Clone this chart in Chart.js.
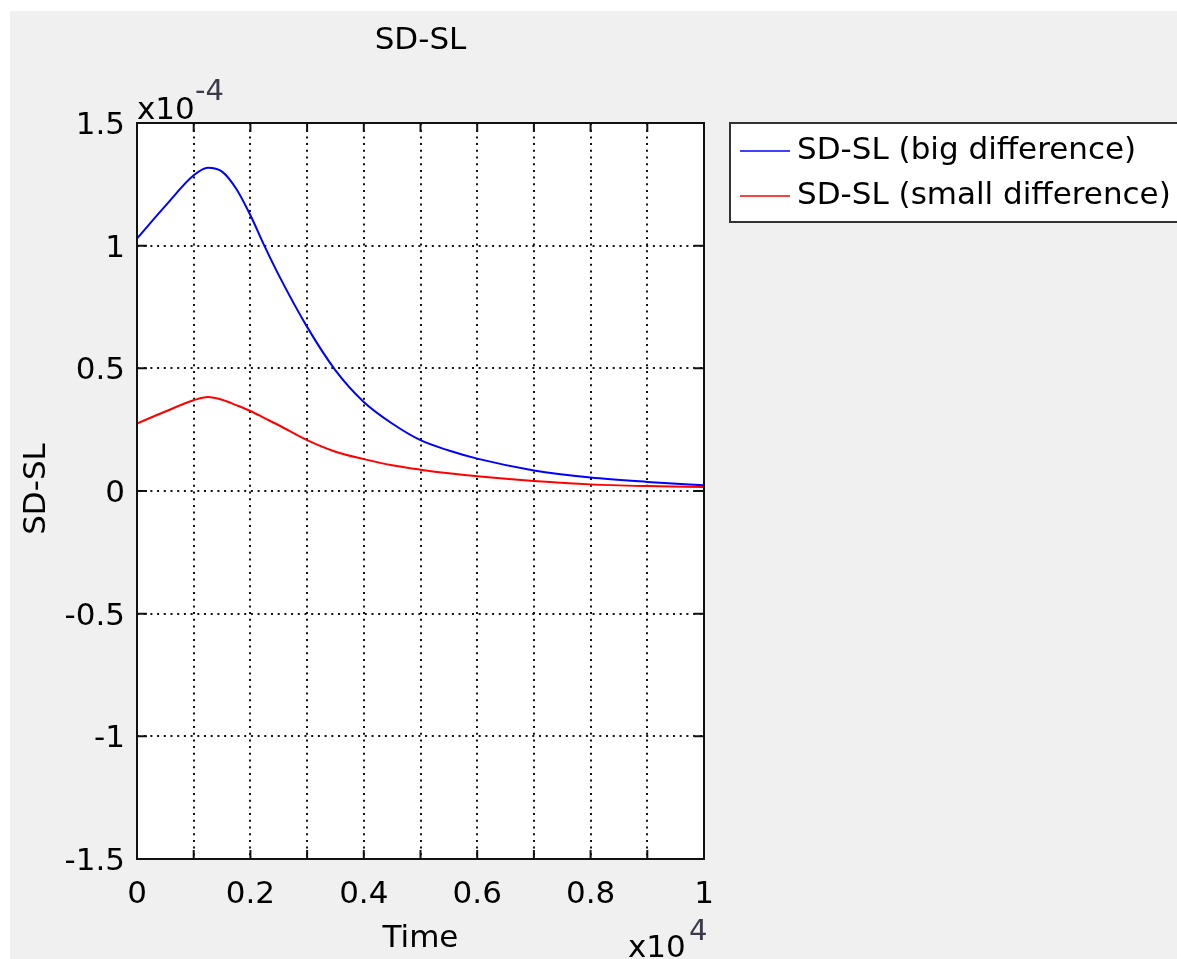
<!DOCTYPE html>
<html>
<head>
<meta charset="utf-8">
<script src="https://cdn.jsdelivr.net/npm/chart.js@4.4.1/dist/chart.umd.min.js"></script>
<style>
  html, body { margin: 0; padding: 0; background: #ffffff; }
  #wrap { width: 1177px; height: 959px; position: relative; }
</style>
</head>
<body>
<div id="wrap"><canvas id="grafico" width="1177" height="959"></canvas></div>
<script>
// datos (tiempo en x10^4, SD-SL en x10^-4)
var tiempo = [0, 0.05, 0.1, 0.125, 0.15, 0.175, 0.2, 0.225, 0.25, 0.3, 0.35, 0.4, 0.45, 0.5, 0.55, 0.6, 0.7, 0.8, 0.9, 1.0];
var bigDiff = [1.029, 1.162, 1.287, 1.318, 1.302, 1.232, 1.124, 0.998, 0.88, 0.669, 0.492, 0.363, 0.275, 0.207, 0.165, 0.132, 0.084, 0.055, 0.037, 0.023];
var smallDiff = [0.275, 0.324, 0.37, 0.383, 0.372, 0.35, 0.326, 0.297, 0.268, 0.207, 0.16, 0.13, 0.105, 0.087, 0.072, 0.06, 0.041, 0.027, 0.02, 0.016];
var nombres = ["SD-SL (big difference)", "SD-SL (small difference)"];
var colores = ["#0000ff", "#ff0000"];
var xTicks = [0, 0.1, 0.2, 0.3, 0.4, 0.5, 0.6, 0.7, 0.8, 0.9, 1];
var xLabels = ["0", "", "0.2", "", "0.4", "", "0.6", "", "0.8", "", "1"];
var yTicks = [-1.5, -1, -0.5, 0, 0.5, 1, 1.5];
var yLabels = ["-1.5", "-1", "-0.5", "0", "0.5", "1", "1.5"];

var fuente = "'DejaVu Sans', sans-serif";
var tam = 31;

function puntos(serie){
    return tiempo.map(function(t, i){ return {x: t, y: serie[i]}; });
}

var marco = {
    id: 'marco',
    beforeDraw: function(chart){
        var ctx = chart.ctx, a = chart.chartArea;
        ctx.save();
        ctx.fillStyle = "#ffffff";
        ctx.fillRect(0, 0, chart.width, chart.height);
        ctx.fillStyle = "#f0f0f0";
        ctx.fillRect(10, 11, chart.width - 10, chart.height - 11);
        ctx.fillStyle = "#ffffff";
        ctx.fillRect(a.left, a.top, a.right - a.left, a.bottom - a.top);
        ctx.restore();
    },
    afterDraw: function(chart){
        var ctx = chart.ctx, a = chart.chartArea;
        var sx = chart.scales.x, sy = chart.scales.y;
        ctx.save();
        // caja
        ctx.strokeStyle = "#111";
        ctx.lineWidth = 2;
        ctx.strokeRect(a.left, a.top, a.right - a.left, a.bottom - a.top);
        // marcas hacia adentro
        ctx.beginPath();
        xTicks.forEach(function(v){
            var px = sx.getPixelForValue(v);
            ctx.moveTo(px, a.bottom); ctx.lineTo(px, a.bottom - 9);
            ctx.moveTo(px, a.top); ctx.lineTo(px, a.top + 9);
        });
        yTicks.forEach(function(v){
            var py = sy.getPixelForValue(v);
            ctx.moveTo(a.left, py); ctx.lineTo(a.left + 10, py);
            ctx.moveTo(a.right, py); ctx.lineTo(a.right - 10, py);
        });
        ctx.stroke();

        ctx.fillStyle = "#000";
        ctx.font = tam + "px " + fuente;
        ctx.textBaseline = "middle";
        ctx.textAlign = "center";
        ctx.fillText("SD-SL", (a.left + a.right) / 2, 41);
        ctx.fillText("Time", (a.left + a.right) / 2, 939);
        // etiqueta eje y
        ctx.save();
        ctx.translate(37, 489);
        ctx.rotate(-Math.PI / 2);
        ctx.fillText("SD-SL", 0, 0);
        ctx.restore();
        // exponentes
        ctx.textAlign = "left";
        ctx.textBaseline = "alphabetic";
        ctx.fillText("x10", a.left, 119);
        ctx.fillText("x10", 628, 957);
        ctx.fillStyle = "#3a3a4a";
        ctx.font = "29px " + fuente;
        ctx.fillText("-4", a.left + 58, 100);
        ctx.fillText("4", 689, 940);

        // leyenda
        var lx = 730, ly = 123;
        ctx.fillStyle = "#ffffff";
        ctx.fillRect(lx, ly, chart.width - lx + 5, 99);
        ctx.strokeStyle = "#333";
        ctx.lineWidth = 2;
        ctx.strokeRect(lx, ly, chart.width - lx + 5, 99);
        ctx.font = tam + "px " + fuente;
        ctx.textBaseline = "middle";
        ctx.fillStyle = "#000";
        nombres.forEach(function(n, i){
            var yy = 151 + i * 45;
            ctx.strokeStyle = colores[i];
            ctx.lineWidth = 1.5;
            ctx.beginPath();
            ctx.moveTo(740, yy); ctx.lineTo(790, yy);
            ctx.stroke();
            ctx.fillText(n, 797, yy);
        });
        ctx.restore();
    }
};

new Chart(document.getElementById("grafico"), {
    type: 'line',
    data: {
        datasets: [
            {
                label: nombres[0],
                data: puntos(bigDiff),
                borderColor: colores[0],
                borderWidth: 2,
                pointRadius: 0,
                fill: false,
                cubicInterpolationMode: 'monotone'
            },
            {
                label: nombres[1],
                data: puntos(smallDiff),
                borderColor: colores[1],
                borderWidth: 2,
                pointRadius: 0,
                fill: false,
                cubicInterpolationMode: 'monotone'
            }
        ]
    },
    options: {
        responsive: false,
        animation: false,
        events: [],
        layout: { padding: { left: 0, top: 123, right: 473, bottom: 0 } },
        plugins: { legend: { display: false }, title: { display: false }, tooltip: { enabled: false } },
        scales: {
            x: {
                type: 'linear',
                min: 0, max: 1,
                afterFit: function(s){ s.height = 100; },
                afterBuildTicks: function(s){ s.ticks = xTicks.map(function(v){ return {value: v}; }); },
                ticks: {
                    autoSkip: false,
                    maxRotation: 0,
                    padding: 17,
                    color: "#000",
                    font: { family: fuente, size: tam },
                    callback: function(v, i){ return xLabels[i]; }
                },
                grid: { color: "#111", lineWidth: 2, drawTicks: false },
                border: { display: false, dash: [2, 4.7] }
            },
            y: {
                min: -1.5, max: 1.5,
                afterFit: function(s){ s.width = 137; },
                afterBuildTicks: function(s){ s.ticks = yTicks.map(function(v){ return {value: v}; }); },
                ticks: {
                    padding: 12,
                    labelOffset: 3,
                    color: "#000",
                    font: { family: fuente, size: tam },
                    callback: function(v, i){ return yLabels[i]; }
                },
                grid: { color: "#111", lineWidth: 2, drawTicks: false },
                border: { display: false, dash: [2, 4.7] }
            }
        }
    },
    plugins: [marco]
});
</script>
</body>
</html>
